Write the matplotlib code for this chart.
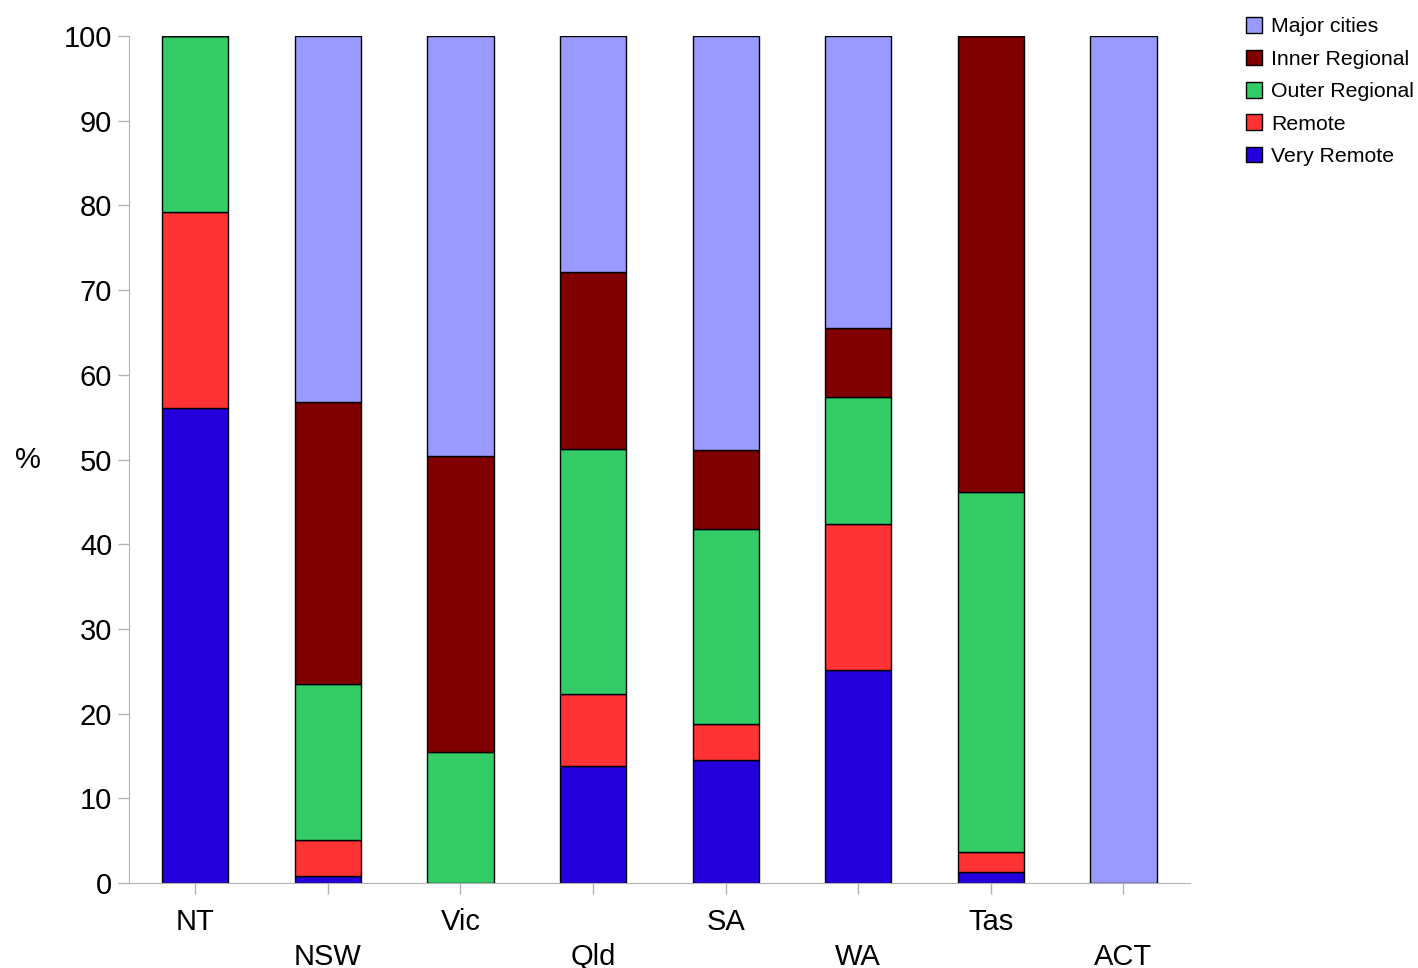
import numpy as np
from matplotlib import pyplot as plt

plt.rcParams['font.family'] = ['Liberation Sans', 'DejaVu Sans']

states = ['NT', 'NSW', 'Vic', 'Qld', 'SA', 'WA', 'Tas', 'ACT']
very_remote = [56.1, 0.8, 0.0, 13.8, 14.5, 25.1, 1.3, 0.0]
remote = [23.1, 4.3, 0.0, 8.5, 4.3, 17.3, 2.4, 0.0]
outer_regional = [20.8, 18.4, 15.5, 28.9, 23.0, 15.0, 42.5, 0.0]
inner_regional = [0.0, 33.3, 34.9, 20.9, 9.3, 8.1, 53.8, 0.0]
major_cities = [0.0, 43.2, 49.6, 27.9, 48.9, 34.5, 0.0, 100.0]

series = [
    ('Very Remote', very_remote, '#2300dc'),
    ('Remote', remote, '#ff3333'),
    ('Outer Regional', outer_regional, '#33cc66'),
    ('Inner Regional', inner_regional, '#800000'),
    ('Major cities', major_cities, '#9999ff'),
]

fig = plt.figure(figsize=(14.18, 9.68), dpi=100)
ax = fig.add_axes([0.091, 0.0878, 0.748, 0.875])

x = np.arange(len(states))
bottom = np.zeros(len(states))
handles = []
for name, vals, col in series:
    vals = np.array(vals)
    h = ax.bar(x, vals, 0.5, bottom=bottom, color=col, edgecolor='black',
               linewidth=1, label=name)
    handles.append(h)
    bottom += vals

ax.set_xlim(-0.5, 7.5)
ax.set_ylim(0, 100)
ax.set_yticks(range(0, 101, 10))
ax.set_xticks(x)
ax.set_xticklabels([s if i % 2 == 0 else '\n' + s for i, s in enumerate(states)],
                   linespacing=1.3)

for s in ['top', 'right']:
    ax.spines[s].set_visible(False)
for s in ['left', 'bottom']:
    ax.spines[s].set_color('#b3b3b3')
ax.tick_params(axis='both', colors='#b3b3b3', labelcolor='black', labelsize=21,
               length=8, width=1)
ax.tick_params(axis='y', pad=4)
ax.tick_params(axis='x', pad=10)

ax.set_ylabel('%', fontsize=21, rotation=0, va='center', ha='center')
ax.yaxis.set_label_coords(-0.095, 0.5)

fig.legend(handles[::-1], [h.get_label() for h in handles[::-1]],
           loc='upper left', bbox_to_anchor=(0.873, 0.991), frameon=False,
           fontsize=15.3, handlelength=0.75, handleheight=0.75, handletextpad=0.4,
           labelspacing=0.62, borderaxespad=0)

fig.savefig('out.png', dpi=100)
